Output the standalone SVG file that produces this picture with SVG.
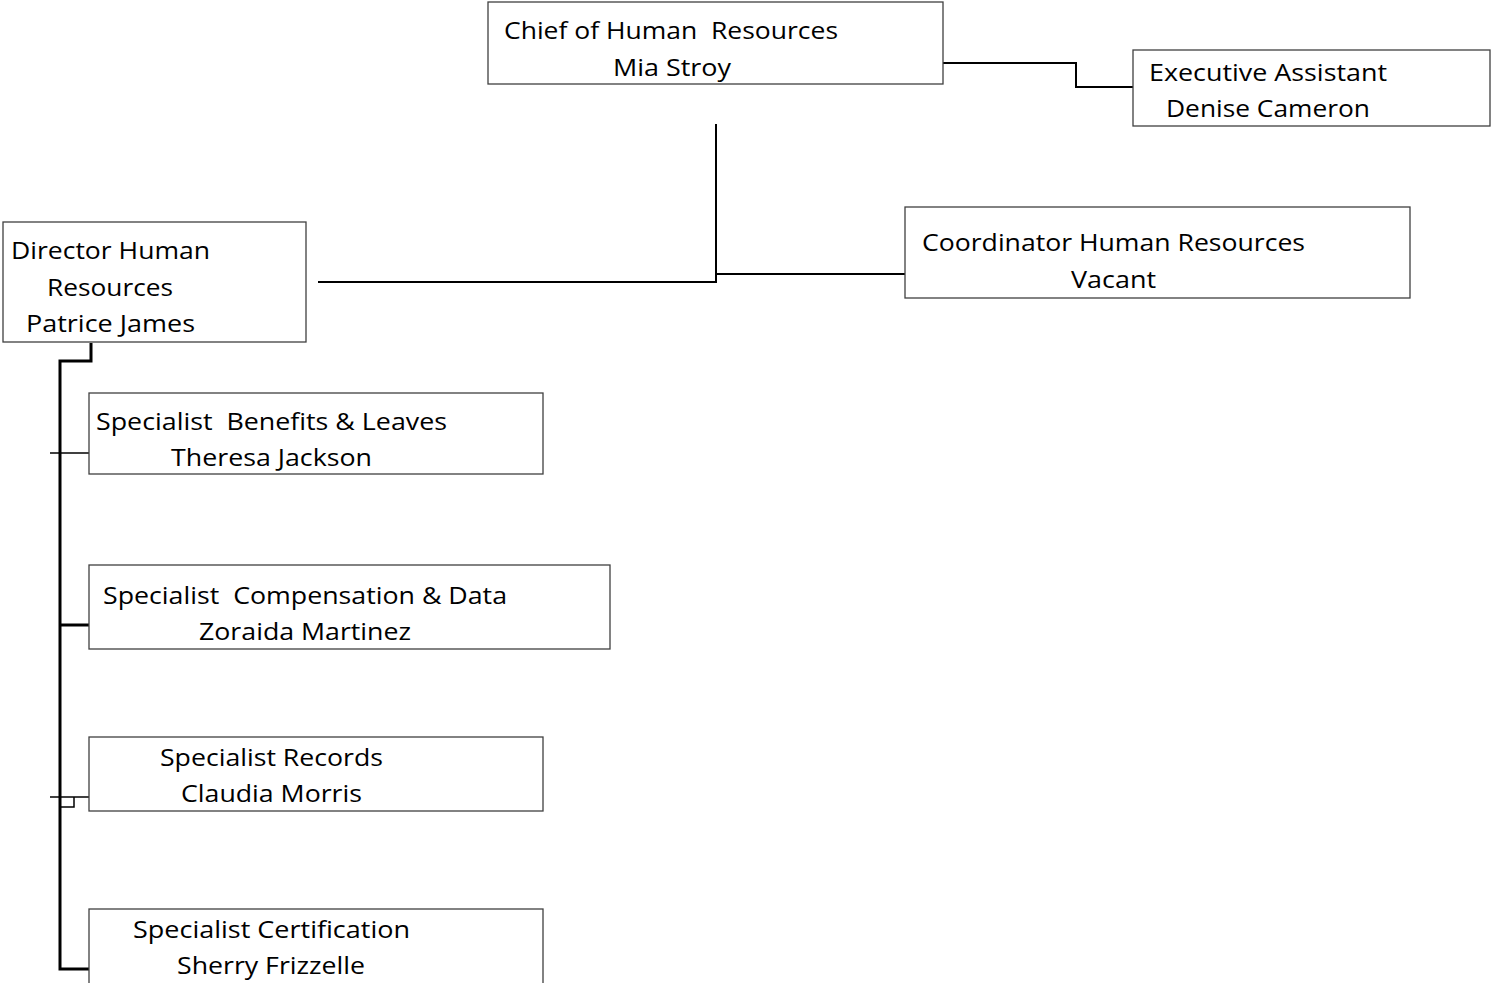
<svg xmlns="http://www.w3.org/2000/svg" width="1491" height="983" viewBox="0 0 1491 983">
  <style>
    .box { fill: #ffffff; stroke: #404040; stroke-width: 1.3; }
    .lbl { font-family: "Open Sans", "Liberation Sans", sans-serif; font-size: 24px; fill: #000000; white-space: pre; }
    .wire { fill: none; stroke: #000000; stroke-width: 2; }
    .thick { fill: none; stroke: #000000; stroke-width: 3; }
    .thin { fill: none; stroke: #000000; stroke-width: 1.5; }
  </style>
  <rect width="1491" height="983" fill="#ffffff"/>

  <!-- reporting lines -->
  <g id="connectors">
    <polyline class="wire" points="943,63 1076,63 1076,87 1133,87"/>
    <line class="wire" x1="716" y1="124" x2="716" y2="283"/>
    <polyline class="wire" points="318,282 716,282"/>
    <line class="wire" x1="716" y1="274" x2="905" y2="274"/>
    <polyline class="thick" points="91,343 91,361 60,361 60,969 89,969"/>
    <line class="thin" x1="50" y1="453" x2="89" y2="453"/>
    <line class="thick" x1="60" y1="625" x2="89" y2="625"/>
    <line class="thin" x1="50" y1="797" x2="89" y2="797"/>
    <polyline class="thin" points="61,807 74,807 74,797"/>
  </g>

  <g id="chief">
    <rect class="box" x="488" y="2" width="455" height="82"/>
    <text class="lbl" x="504" y="39" textLength="334" lengthAdjust="spacingAndGlyphs">Chief of Human  Resources</text>
    <text class="lbl" x="613" y="76" textLength="118" lengthAdjust="spacingAndGlyphs">Mia Stroy</text>
  </g>

  <g id="executive-assistant">
    <rect class="box" x="1133" y="50" width="357" height="76"/>
    <text class="lbl" x="1149" y="81" textLength="238" lengthAdjust="spacingAndGlyphs">Executive Assistant</text>
    <text class="lbl" x="1166" y="117" textLength="204" lengthAdjust="spacingAndGlyphs">Denise Cameron</text>
  </g>

  <g id="director">
    <rect class="box" x="3" y="222" width="303" height="120"/>
    <text class="lbl" x="11" y="259" textLength="199" lengthAdjust="spacingAndGlyphs">Director Human</text>
    <text class="lbl" x="47" y="296" textLength="126" lengthAdjust="spacingAndGlyphs">Resources</text>
    <text class="lbl" x="26" y="332" textLength="169" lengthAdjust="spacingAndGlyphs">Patrice James</text>
  </g>

  <g id="coordinator">
    <rect class="box" x="905" y="207" width="505" height="91"/>
    <text class="lbl" x="922" y="251" textLength="383" lengthAdjust="spacingAndGlyphs">Coordinator Human Resources</text>
    <text class="lbl" x="1071" y="288" textLength="85" lengthAdjust="spacingAndGlyphs">Vacant</text>
  </g>

  <g id="benefits">
    <rect class="box" x="89" y="393" width="454" height="81"/>
    <text class="lbl" x="96" y="430" textLength="351" lengthAdjust="spacingAndGlyphs">Specialist  Benefits &amp; Leaves</text>
    <text class="lbl" x="171" y="466" textLength="201" lengthAdjust="spacingAndGlyphs">Theresa Jackson</text>
  </g>

  <g id="compensation">
    <rect class="box" x="89" y="565" width="521" height="84"/>
    <text class="lbl" x="103" y="604" textLength="404" lengthAdjust="spacingAndGlyphs">Specialist  Compensation &amp; Data</text>
    <text class="lbl" x="199" y="640" textLength="212" lengthAdjust="spacingAndGlyphs">Zoraida Martinez</text>
  </g>

  <g id="records">
    <rect class="box" x="89" y="737" width="454" height="74"/>
    <text class="lbl" x="160" y="766" textLength="223" lengthAdjust="spacingAndGlyphs">Specialist Records</text>
    <text class="lbl" x="181" y="802" textLength="181" lengthAdjust="spacingAndGlyphs">Claudia Morris</text>
  </g>

  <g id="certification">
    <rect class="box" x="89" y="909" width="454" height="90"/>
    <text class="lbl" x="133" y="938" textLength="277" lengthAdjust="spacingAndGlyphs">Specialist Certification</text>
    <text class="lbl" x="177" y="974" textLength="188" lengthAdjust="spacingAndGlyphs">Sherry Frizzelle</text>
  </g>
</svg>
